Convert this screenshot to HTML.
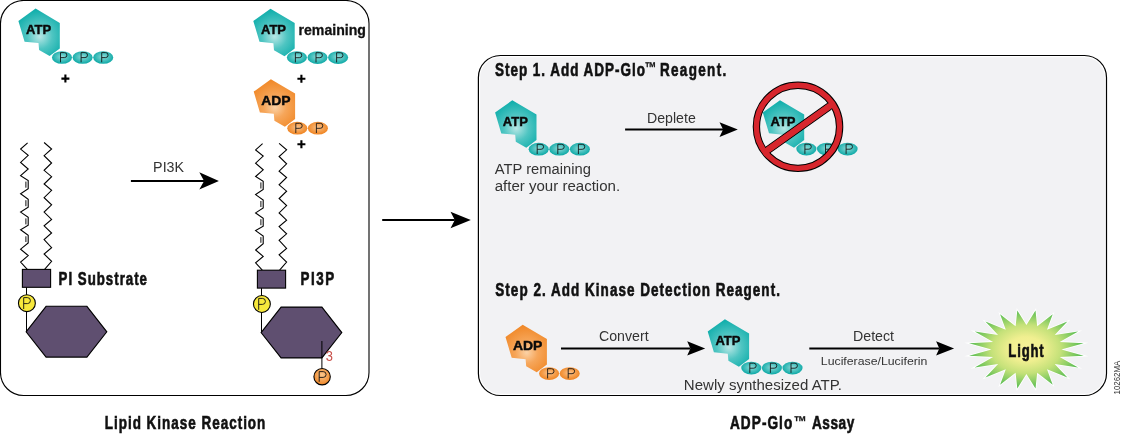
<!DOCTYPE html>
<html><head><meta charset="utf-8"><style>html,body{margin:0;padding:0;background:#fff;}svg{display:block;will-change:transform;}</style></head>
<body><svg width="1122" height="434" viewBox="0 0 1122 434">
<defs>
<radialGradient id="gT" gradientUnits="userSpaceOnUse" cx="4" cy="27" r="28" fx="4" fy="28">
<stop offset="0" stop-color="#b8e7e5"/><stop offset="0.45" stop-color="#4fc5c2"/><stop offset="1" stop-color="#08aba8"/></radialGradient>
<radialGradient id="gO" gradientUnits="userSpaceOnUse" cx="4" cy="27" r="28" fx="4" fy="28">
<stop offset="0" stop-color="#fbd2a6"/><stop offset="0.4" stop-color="#f6a65a"/><stop offset="1" stop-color="#f08522"/></radialGradient>
<radialGradient id="eT" cx="0.5" cy="0.45" r="0.55"><stop offset="0" stop-color="#92dbd8"/><stop offset="0.5" stop-color="#4cc2bf"/><stop offset="1" stop-color="#0aa8a5"/></radialGradient>
<radialGradient id="eO" cx="0.5" cy="0.45" r="0.55"><stop offset="0" stop-color="#fac38e"/><stop offset="0.5" stop-color="#f5a253"/><stop offset="1" stop-color="#ef8320"/></radialGradient>
<radialGradient id="eO2" cx="0.5" cy="0.4" r="0.6"><stop offset="0" stop-color="#fbc88f"/><stop offset="1" stop-color="#ee8424"/></radialGradient>
<radialGradient id="gL" gradientUnits="userSpaceOnUse" cx="1026" cy="349" r="58" gradientTransform="translate(1026 349) scale(1 0.7) translate(-1026 -349)">
<stop offset="0" stop-color="#f8f29a"/><stop offset="0.3" stop-color="#f0ef90"/><stop offset="0.6" stop-color="#c4e179"/><stop offset="1" stop-color="#50b94f"/></radialGradient>
</defs>
<rect x="0.5" y="0.5" width="368.5" height="395" rx="23" ry="23" fill="#fff" stroke="#000" stroke-width="1.1"/>
<rect x="478.4" y="55.5" width="628.1" height="340" rx="22" ry="22" fill="#fff" stroke="#000" stroke-width="1.2"/>
<rect x="480.1" y="57.3" width="624.7" height="336.4" rx="20.3" ry="20.3" fill="#f2f2f4"/>
<g transform="translate(35.6,8.6)"><path d="M0,0 L24.2,14.3 L24.2,39.8 L14,47.5 L3.5,41.5 L2.9,34.5 L-11,33.1 L-17.2,12.3 Z" fill="url(#gT)"/><ellipse cx="26.4" cy="48.9" rx="10.05" ry="6.35" fill="url(#eT)"/><path d="M24.90,53.70V44.00H28.80A2.50,2.50 0 0 1 28.80,49.00H24.90" fill="none" stroke="#111" stroke-width="0.85"/><ellipse cx="47.0" cy="48.9" rx="10.05" ry="6.35" fill="url(#eT)"/><path d="M45.50,53.70V44.00H49.40A2.50,2.50 0 0 1 49.40,49.00H45.50" fill="none" stroke="#111" stroke-width="0.85"/><ellipse cx="67.6" cy="48.9" rx="10.05" ry="6.35" fill="url(#eT)"/><path d="M66.10,53.70V44.00H70.00A2.50,2.50 0 0 1 70.00,49.00H66.10" fill="none" stroke="#111" stroke-width="0.85"/><text id="mATP" x="-9.52" y="25.7" font-family='"Liberation Sans", sans-serif' font-weight="bold" font-size="13.4" fill="#0a0a0a" stroke="#0a0a0a" stroke-width="0.45" textLength="25.06" lengthAdjust="spacingAndGlyphs">ATP</text></g>
<path d="M65.4,74.6V82.6M61.4,78.6H69.4" stroke="#000" stroke-width="2.1"/>
<g transform="translate(270.5,8.7)"><path d="M0,0 L24.2,14.3 L24.2,39.8 L14,47.5 L3.5,41.5 L2.9,34.5 L-11,33.1 L-17.2,12.3 Z" fill="url(#gT)"/><ellipse cx="26.4" cy="48.9" rx="10.05" ry="6.35" fill="url(#eT)"/><path d="M24.90,53.70V44.00H28.80A2.50,2.50 0 0 1 28.80,49.00H24.90" fill="none" stroke="#111" stroke-width="0.85"/><ellipse cx="47.0" cy="48.9" rx="10.05" ry="6.35" fill="url(#eT)"/><path d="M45.50,53.70V44.00H49.40A2.50,2.50 0 0 1 49.40,49.00H45.50" fill="none" stroke="#111" stroke-width="0.85"/><ellipse cx="67.6" cy="48.9" rx="10.05" ry="6.35" fill="url(#eT)"/><path d="M66.10,53.70V44.00H70.00A2.50,2.50 0 0 1 70.00,49.00H66.10" fill="none" stroke="#111" stroke-width="0.85"/><text x="-9.52" y="25.7" font-family='"Liberation Sans", sans-serif' font-weight="bold" font-size="13.4" fill="#0a0a0a" stroke="#0a0a0a" stroke-width="0.45" textLength="25.06" lengthAdjust="spacingAndGlyphs">ATP</text></g>
<text id="remaining" x="298.48" y="35.3" font-family='"Liberation Sans", sans-serif' font-weight="bold" font-size="15.1" fill="#111" stroke="#111" stroke-width="0.3" textLength="67.52" lengthAdjust="spacingAndGlyphs">remaining</text>
<path d="M301.4,74.7V82.7M297.4,78.7H305.4" stroke="#000" stroke-width="2.1"/>
<g transform="translate(270.9,79.3)"><path d="M0,0 L24.2,14.3 L24.2,39.8 L14,47.5 L3.5,41.5 L2.9,34.5 L-11,33.1 L-17.2,12.3 Z" fill="url(#gO)"/><ellipse cx="26.4" cy="48.9" rx="10.05" ry="6.35" fill="url(#eO)"/><path d="M24.90,53.70V44.00H28.80A2.50,2.50 0 0 1 28.80,49.00H24.90" fill="none" stroke="#111" stroke-width="0.85"/><ellipse cx="47.0" cy="48.9" rx="10.05" ry="6.35" fill="url(#eO)"/><path d="M45.50,53.70V44.00H49.40A2.50,2.50 0 0 1 49.40,49.00H45.50" fill="none" stroke="#111" stroke-width="0.85"/><text x="-9.74" y="25.7" font-family='"Liberation Sans", sans-serif' font-weight="bold" font-size="13.4" fill="#0a0a0a" stroke="#0a0a0a" stroke-width="0.45" textLength="29.43" lengthAdjust="spacingAndGlyphs">ADP</text></g>
<path d="M301.4,140.3V148.3M297.4,144.3H305.4" stroke="#000" stroke-width="2.1"/>
<g transform="translate(0,0)"><path d="M27.6,142.9 L20.6,149.1 L28.2,155.3 L20.6,162.4 L28.2,169 L20.6,175.7 L28.2,180.6 L28.2,188.6 L20.6,193.8 L28.2,199.2 L28.2,207.1 L20.6,212.1 L28.2,217.4 L28.2,225.3 L20.6,229.8 L28.2,235.3 L28.2,242.9 L20.6,249.2 L28.2,255.6 L20.6,262.1 L27.3,269.4" fill="none" stroke="#000" stroke-width="1.1" stroke-linejoin="miter"/><line x1="25.9" y1="181.6" x2="25.9" y2="187.7" stroke="#000" stroke-width="0.95"/><line x1="25.9" y1="200.2" x2="25.9" y2="206.2" stroke="#000" stroke-width="0.95"/><line x1="25.9" y1="218.4" x2="25.9" y2="224.4" stroke="#000" stroke-width="0.95"/><line x1="25.9" y1="236.3" x2="25.9" y2="242.0" stroke="#000" stroke-width="0.95"/><path d="M44.1,142.5 L51.6,149 L44.1,155.7 L51.6,163 L44.1,170.3 L51.6,176.7 L44.1,184 L51.6,190.4 L44.1,197.7 L51.6,204.8 L44.1,212.1 L51.6,219.4 L44.1,225.8 L51.6,233 L44.1,239.5 L51.6,247.6 L44.1,254 L51.6,261.3 L44.6,269.4" fill="none" stroke="#000" stroke-width="1.1"/><rect x="22.4" y="269.4" width="28.2" height="17.9" fill="#5f4f70" stroke="#000" stroke-width="1.1"/><line x1="26.5" y1="287.3" x2="26.5" y2="331.8" stroke="#000" stroke-width="1"/><path d="M26.1,331.8 L46.1,306.3 L86.9,306.3 L106.8,331.8 L86.9,357.1 L46.1,357.1 Z" fill="#5f4f70" stroke="#000" stroke-width="1.1"/><circle cx="26.9" cy="303.2" r="8.45" fill="#f7e83c" stroke="#000" stroke-width="1.1"/><path d="M23.7,309V297.6H27.4A3,3 0 0 1 27.4,303.6H23.7" fill="none" stroke="#111" stroke-width="0.9"/></g>
<g transform="translate(235,0.8)"><path d="M27.6,142.9 L20.6,149.1 L28.2,155.3 L20.6,162.4 L28.2,169 L20.6,175.7 L28.2,180.6 L28.2,188.6 L20.6,193.8 L28.2,199.2 L28.2,207.1 L20.6,212.1 L28.2,217.4 L28.2,225.3 L20.6,229.8 L28.2,235.3 L28.2,242.9 L20.6,249.2 L28.2,255.6 L20.6,262.1 L27.3,269.4" fill="none" stroke="#000" stroke-width="1.1" stroke-linejoin="miter"/><line x1="25.9" y1="181.6" x2="25.9" y2="187.7" stroke="#000" stroke-width="0.95"/><line x1="25.9" y1="200.2" x2="25.9" y2="206.2" stroke="#000" stroke-width="0.95"/><line x1="25.9" y1="218.4" x2="25.9" y2="224.4" stroke="#000" stroke-width="0.95"/><line x1="25.9" y1="236.3" x2="25.9" y2="242.0" stroke="#000" stroke-width="0.95"/><path d="M44.1,142.5 L51.6,149 L44.1,155.7 L51.6,163 L44.1,170.3 L51.6,176.7 L44.1,184 L51.6,190.4 L44.1,197.7 L51.6,204.8 L44.1,212.1 L51.6,219.4 L44.1,225.8 L51.6,233 L44.1,239.5 L51.6,247.6 L44.1,254 L51.6,261.3 L44.6,269.4" fill="none" stroke="#000" stroke-width="1.1"/><rect x="22.4" y="269.4" width="28.2" height="17.9" fill="#5f4f70" stroke="#000" stroke-width="1.1"/><line x1="26.5" y1="287.3" x2="26.5" y2="331.8" stroke="#000" stroke-width="1"/><path d="M26.1,331.8 L46.1,306.3 L86.9,306.3 L106.8,331.8 L86.9,357.1 L46.1,357.1 Z" fill="#5f4f70" stroke="#000" stroke-width="1.1"/><circle cx="26.9" cy="303.2" r="8.45" fill="#f7e83c" stroke="#000" stroke-width="1.1"/><path d="M23.7,309V297.6H27.4A3,3 0 0 1 27.4,303.6H23.7" fill="none" stroke="#111" stroke-width="0.9"/></g>
<text id="pisub" transform="translate(58.59 284.9) scale(0.71 1)" x="0" y="0" font-family='"Liberation Sans", sans-serif' font-weight="bold" font-size="18.7" fill="#111" stroke="#111" stroke-width="0.65" textLength="124.49" lengthAdjust="spacing">PI Substrate</text>
<text id="pi3p" transform="translate(300.60 284.9) scale(0.71 1)" x="0" y="0" font-family='"Liberation Sans", sans-serif' font-weight="bold" font-size="18.9" fill="#111" stroke="#111" stroke-width="0.65" textLength="47.45" lengthAdjust="spacing">PI3P</text>
<line x1="130.9" y1="180.9" x2="204.10000000000002" y2="180.9" stroke="#000" stroke-width="2"/><path d="M218.9,180.9 L199.3,172.3 L204.10000000000002,180.9 L199.3,189.5 Z" fill="#000"/>
<text id="pi3k" x="153.11" y="172.1" font-family='"Liberation Sans", sans-serif' font-size="14.3" fill="#333" textLength="30.95" lengthAdjust="spacingAndGlyphs">PI3K</text>
<line x1="321.9" y1="341" x2="321.9" y2="368" stroke="#000" stroke-width="1"/>
<circle cx="322.1" cy="376.7" r="8.2" fill="url(#eO2)" stroke="#000" stroke-width="1.1"/>
<path d="M319.2,381.8V371.6H323.2A2.9,2.9 0 0 1 323.2,377.4H319.2" fill="none" stroke="#111" stroke-width="0.9"/>
<text x="325.80" y="361" font-family='"Liberation Sans", sans-serif' font-size="13.8" fill="#c8504a" textLength="7.20" lengthAdjust="spacingAndGlyphs">3</text>
<text id="lkr" transform="translate(104.77 429.4) scale(0.71 1)" x="0" y="0" font-family='"Liberation Sans", sans-serif' font-weight="bold" font-size="19" fill="#111" stroke="#111" stroke-width="0.65" textLength="226.15" lengthAdjust="spacing">Lipid Kinase Reaction</text>
<text id="assay" transform="translate(729.92 429.2) scale(0.71 1)" x="0" y="0" font-family='"Liberation Sans", sans-serif' font-weight="bold" font-size="19.2" fill="#111" stroke="#111" stroke-width="0.65" textLength="87.86" lengthAdjust="spacing">ADP-Glo</text>
<text id="tm2" x="793.81" y="426.7" font-family='"Liberation Sans", sans-serif' font-weight="bold" font-size="15.6" fill="#111" stroke="#111" stroke-width="0.3" textLength="12.69" lengthAdjust="spacingAndGlyphs">™</text>
<text id="assay2" transform="translate(811.94 429.2) scale(0.71 1)" x="0" y="0" font-family='"Liberation Sans", sans-serif' font-weight="bold" font-size="19.2" fill="#111" stroke="#111" stroke-width="0.65" textLength="59.68" lengthAdjust="spacing">Assay</text>
<line x1="382.2" y1="220" x2="454.8" y2="220" stroke="#000" stroke-width="2"/><path d="M470.8,220 L450.5,211.8 L454.8,220 L450.5,228.2 Z" fill="#000"/>
<text id="step1" transform="translate(494.99 75.6) scale(0.71 1)" x="0" y="0" font-family='"Liberation Sans", sans-serif' font-weight="bold" font-size="19.0" fill="#111" stroke="#111" stroke-width="0.65" textLength="211.16" lengthAdjust="spacing">Step 1. Add ADP-Glo</text>
<text id="tm1" x="644.83" y="73.4" font-family='"Liberation Sans", sans-serif' font-weight="bold" font-size="15.6" fill="#111" stroke="#111" stroke-width="0.3" textLength="11.42" lengthAdjust="spacingAndGlyphs">™</text>
<text id="reag" transform="translate(659.94 75.6) scale(0.71 1)" x="0" y="0" font-family='"Liberation Sans", sans-serif' font-weight="bold" font-size="19.0" fill="#111" stroke="#111" stroke-width="0.65" textLength="93.35" lengthAdjust="spacing">Reagent.</text>
<g transform="translate(512.3,100.3)"><path d="M0,0 L24.2,14.3 L24.2,39.8 L14,47.5 L3.5,41.5 L2.9,34.5 L-11,33.1 L-17.2,12.3 Z" fill="url(#gT)"/><ellipse cx="26.4" cy="48.9" rx="10.05" ry="6.35" fill="url(#eT)"/><path d="M24.90,53.70V44.00H28.80A2.50,2.50 0 0 1 28.80,49.00H24.90" fill="none" stroke="#111" stroke-width="0.85"/><ellipse cx="47.0" cy="48.9" rx="10.05" ry="6.35" fill="url(#eT)"/><path d="M45.50,53.70V44.00H49.40A2.50,2.50 0 0 1 49.40,49.00H45.50" fill="none" stroke="#111" stroke-width="0.85"/><ellipse cx="67.6" cy="48.9" rx="10.05" ry="6.35" fill="url(#eT)"/><path d="M66.10,53.70V44.00H70.00A2.50,2.50 0 0 1 70.00,49.00H66.10" fill="none" stroke="#111" stroke-width="0.85"/><text x="-9.52" y="25.7" font-family='"Liberation Sans", sans-serif' font-weight="bold" font-size="13.4" fill="#0a0a0a" stroke="#0a0a0a" stroke-width="0.45" textLength="25.06" lengthAdjust="spacingAndGlyphs">ATP</text></g>
<text id="atprem" x="494.77" y="173.8" font-family='"Liberation Sans", sans-serif' font-size="14.7" fill="#333" textLength="96.07" lengthAdjust="spacingAndGlyphs">ATP remaining</text>
<text id="after" x="494.71" y="190.9" font-family='"Liberation Sans", sans-serif' font-size="14.7" fill="#333" textLength="125.42" lengthAdjust="spacingAndGlyphs">after your reaction.</text>
<line x1="625.1" y1="129.6" x2="723.1" y2="129.6" stroke="#000" stroke-width="2"/><path d="M737.8,129.6 L719.5,122.19999999999999 L723.1,129.6 L719.5,137.0 Z" fill="#000"/>
<text id="deplete" x="647.05" y="122.8" font-family='"Liberation Sans", sans-serif' font-size="14.1" fill="#333" textLength="48.72" lengthAdjust="spacingAndGlyphs">Deplete</text>
<g transform="translate(780,100.2)"><path d="M0,0 L24.2,14.3 L24.2,39.8 L14,47.5 L3.5,41.5 L2.9,34.5 L-11,33.1 L-17.2,12.3 Z" fill="url(#gT)"/><ellipse cx="26.4" cy="48.9" rx="10.05" ry="6.35" fill="url(#eT)"/><path d="M24.90,53.70V44.00H28.80A2.50,2.50 0 0 1 28.80,49.00H24.90" fill="none" stroke="#111" stroke-width="0.85"/><ellipse cx="47.0" cy="48.9" rx="10.05" ry="6.35" fill="url(#eT)"/><path d="M45.50,53.70V44.00H49.40A2.50,2.50 0 0 1 49.40,49.00H45.50" fill="none" stroke="#111" stroke-width="0.85"/><ellipse cx="67.6" cy="48.9" rx="10.05" ry="6.35" fill="url(#eT)"/><path d="M66.10,53.70V44.00H70.00A2.50,2.50 0 0 1 70.00,49.00H66.10" fill="none" stroke="#111" stroke-width="0.85"/><text x="-9.52" y="25.7" font-family='"Liberation Sans", sans-serif' font-weight="bold" font-size="13.4" fill="#0a0a0a" stroke="#0a0a0a" stroke-width="0.45" textLength="25.06" lengthAdjust="spacingAndGlyphs">ATP</text></g>
<g>
<clipPath id="cin"><circle cx="798" cy="126.8" r="39"/></clipPath>
<g clip-path="url(#cin)" transform="rotate(-35.4 798 128.6)">
<rect x="750" y="125.15" width="96" height="6.9" fill="#d7262d"/>
<line x1="750" y1="125.15" x2="846" y2="125.15" stroke="#000" stroke-width="1"/>
<line x1="750" y1="132.05" x2="846" y2="132.05" stroke="#000" stroke-width="1"/>
</g>
<circle cx="798" cy="126.8" r="41.6" fill="none" stroke="#000" stroke-width="7.4"/>
<circle cx="798" cy="126.8" r="41.6" fill="none" stroke="#d7262d" stroke-width="5.4"/>
<g transform="rotate(-35.4 798 128.6)"><rect x="755" y="125.65" width="86" height="5.9" fill="#d7262d"/></g>
</g>
<text id="step2" transform="translate(495.30 295.9) scale(0.71 1)" x="0" y="0" font-family='"Liberation Sans", sans-serif' font-weight="bold" font-size="19.0" fill="#111" stroke="#111" stroke-width="0.65" textLength="400.86" lengthAdjust="spacing">Step 2. Add Kinase Detection Reagent.</text>
<g transform="translate(522.7,324.7)"><path d="M0,0 L24.2,14.3 L24.2,39.8 L14,47.5 L3.5,41.5 L2.9,34.5 L-11,33.1 L-17.2,12.3 Z" fill="url(#gO)"/><ellipse cx="26.4" cy="48.9" rx="10.05" ry="6.35" fill="url(#eO)"/><path d="M24.90,53.70V44.00H28.80A2.50,2.50 0 0 1 28.80,49.00H24.90" fill="none" stroke="#111" stroke-width="0.85"/><ellipse cx="47.0" cy="48.9" rx="10.05" ry="6.35" fill="url(#eO)"/><path d="M45.50,53.70V44.00H49.40A2.50,2.50 0 0 1 49.40,49.00H45.50" fill="none" stroke="#111" stroke-width="0.85"/><text id="mADP" x="-9.74" y="25.7" font-family='"Liberation Sans", sans-serif' font-weight="bold" font-size="13.4" fill="#0a0a0a" stroke="#0a0a0a" stroke-width="0.45" textLength="29.43" lengthAdjust="spacingAndGlyphs">ADP</text></g>
<line x1="561" y1="348.4" x2="690.4000000000001" y2="348.4" stroke="#000" stroke-width="2"/><path d="M705.2,348.4 L687.2,341.2 L690.4000000000001,348.4 L687.2,355.59999999999997 Z" fill="#000"/>
<text id="convert" x="599.00" y="341.1" font-family='"Liberation Sans", sans-serif' font-size="14.1" fill="#333" textLength="49.65" lengthAdjust="spacingAndGlyphs">Convert</text>
<g transform="translate(724.9,319.2)"><path d="M0,0 L24.2,14.3 L24.2,39.8 L14,47.5 L3.5,41.5 L2.9,34.5 L-11,33.1 L-17.2,12.3 Z" fill="url(#gT)"/><ellipse cx="26.4" cy="48.9" rx="10.05" ry="6.35" fill="url(#eT)"/><path d="M24.90,53.70V44.00H28.80A2.50,2.50 0 0 1 28.80,49.00H24.90" fill="none" stroke="#111" stroke-width="0.85"/><ellipse cx="47.0" cy="48.9" rx="10.05" ry="6.35" fill="url(#eT)"/><path d="M45.50,53.70V44.00H49.40A2.50,2.50 0 0 1 49.40,49.00H45.50" fill="none" stroke="#111" stroke-width="0.85"/><ellipse cx="67.6" cy="48.9" rx="10.05" ry="6.35" fill="url(#eT)"/><path d="M66.10,53.70V44.00H70.00A2.50,2.50 0 0 1 70.00,49.00H66.10" fill="none" stroke="#111" stroke-width="0.85"/><text x="-9.52" y="25.7" font-family='"Liberation Sans", sans-serif' font-weight="bold" font-size="13.4" fill="#0a0a0a" stroke="#0a0a0a" stroke-width="0.45" textLength="25.06" lengthAdjust="spacingAndGlyphs">ATP</text></g>
<text id="newly" x="683.86" y="390.1" font-family='"Liberation Sans", sans-serif' font-size="14.6" fill="#333" textLength="158.14" lengthAdjust="spacingAndGlyphs">Newly synthesized ATP.</text>
<line x1="809.3" y1="348.4" x2="939.3000000000001" y2="348.4" stroke="#000" stroke-width="2"/><path d="M954.1,348.4 L936.1,341.2 L939.3000000000001,348.4 L936.1,355.59999999999997 Z" fill="#000"/>
<text id="detect" x="852.99" y="341.1" font-family='"Liberation Sans", sans-serif' font-size="13.9" fill="#333" textLength="41.03" lengthAdjust="spacingAndGlyphs">Detect</text>
<text id="lucif" x="820.84" y="364.9" font-family='"Liberation Sans", sans-serif' font-size="11.8" fill="#333" textLength="106.57" lengthAdjust="spacingAndGlyphs">Luciferase/Luciferin</text>
<path d="M1035.5,310.5 L1037.2,326.2 L1052.7,314.3 L1047.0,329.7 L1067.4,321.6 L1054.7,335.1 L1078.1,331.6 L1059.7,341.9 L1083.7,343.3 L1061.4,349.5 L1083.7,355.7 L1059.7,357.1 L1078.1,367.4 L1054.7,363.9 L1067.4,377.4 L1047.0,369.3 L1052.7,384.7 L1037.2,372.8 L1035.5,388.5 L1026.4,374.0 L1017.3,388.5 L1015.6,372.8 L1000.1,384.7 L1005.8,369.3 L985.4,377.4 L998.1,363.9 L974.7,367.4 L993.1,357.1 L969.1,355.7 L991.4,349.5 L969.1,343.3 L993.1,341.9 L974.7,331.6 L998.1,335.1 L985.4,321.6 L1005.8,329.7 L1000.1,314.3 L1015.6,326.2 L1017.3,310.5 L1026.4,325.0Z" fill="url(#gL)" stroke="#fff" stroke-width="1.6" stroke-linejoin="miter" stroke-miterlimit="10" paint-order="stroke"/>
<text id="light" transform="translate(1008.34 356.5) scale(0.71 1)" x="0" y="0" font-family='"Liberation Sans", sans-serif' font-weight="bold" font-size="18.5" fill="#111" stroke="#111" stroke-width="0.65" textLength="49.81" lengthAdjust="spacing">Light</text>
<text x="0" y="0" font-family='"Liberation Sans", sans-serif' font-size="8.5" fill="#333" transform="translate(1120.2 394.4) rotate(-90)" textLength="33.6" lengthAdjust="spacingAndGlyphs">10262MA</text>
</svg></body></html>
